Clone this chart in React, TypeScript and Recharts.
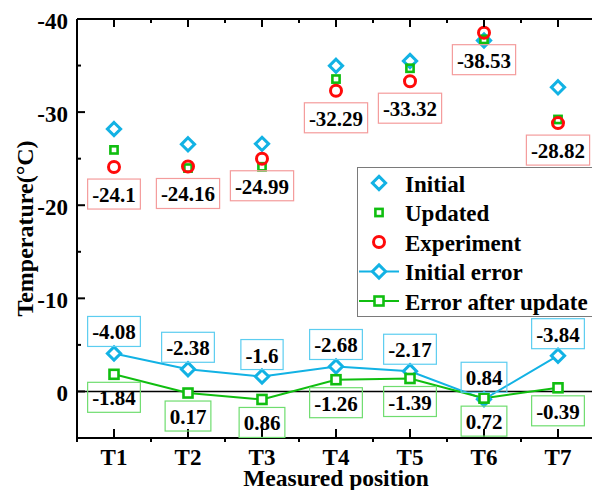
import { ComposedChart, Line, XAxis, YAxis, ReferenceLine, Legend, LabelList, Label } from 'recharts';

const CATEGORIES = ['T1', 'T2', 'T3', 'T4', 'T5', 'T6', 'T7'];
const INITIAL = [-28.18, -26.54, -26.59, -34.97, -35.49, -37.69, -32.66];
const UPDATED = [-25.94, -23.99, -24.13, -33.55, -34.71, -37.81, -29.21];
const EXPERIMENT = [-24.1, -24.16, -24.99, -32.29, -33.32, -38.53, -28.82];
const INITIAL_ERROR = [-4.08, -2.38, -1.6, -2.68, -2.17, 0.84, -3.84];
const UPDATED_ERROR = [-1.84, 0.17, 0.86, -1.26, -1.39, 0.72, -0.39];
const Y_TICKS = [-40, -35, -30, -25, -20, -15, -10, -5, 0, 5];

const CYAN = '#12B2E4';
const GREEN = '#10BE10';
const RED = '#FF0A0A';
const FONT = '"Liberation Serif", "Times New Roman", serif';

const W = 610;
const H = 490;
const MARGIN = { top: 18, right: 15, bottom: 0, left: 0 };
const Y_AXIS_W = 77;
const X_AXIS_H = 52;
const BAND = (W - MARGIN.left - MARGIN.right - Y_AXIS_W) / CATEGORIES.length;

const data = CATEGORIES.map((name, i) => ({
  name,
  initial: INITIAL[i],
  updated: UPDATED[i],
  experiment: EXPERIMENT[i],
  initErr: INITIAL_ERROR[i],
  updErr: UPDATED_ERROR[i],
}));

// markers
const diamond = (cx: number, cy: number, r: number) =>
  `M${cx},${cy - r}L${cx + r},${cy}L${cx},${cy + r}L${cx - r},${cy}Z`;

const DiamondDot = (fill: string) => (p: any) => (
  <path key={`d${p.index}`} d={diamond(p.cx, p.cy, 6.6)} fill={fill} stroke={CYAN} strokeWidth={3} />
);
const SquareDot = (half: number, fill: string) => (p: any) => (
  <rect key={`s${p.index}`} x={p.cx - half} y={p.cy - half} width={half * 2} height={half * 2}
    fill={fill} stroke={GREEN} strokeWidth={2.6} />
);
const CircleDot = (p: any) => (
  <circle key={`c${p.index}`} cx={p.cx} cy={p.cy} r={5.5} fill="none" stroke={RED} strokeWidth={3} />
);

// boxed value labels
function textWidth(s: string, fs: number) {
  let w = 0;
  for (const c of s) w += c === '.' ? 0.25 : c === '-' ? 0.333 : 0.5;
  return w * fs;
}

function boxLabel(color: string, place: 'above' | 'below', gap: number) {
  return (p: any) => {
    const x = Number(p.x ?? p.viewBox?.x);
    const y = Number(p.y ?? p.viewBox?.y);
    const text = String(p.value);
    const w = textWidth(text, 21) + 9;
    const h = 30;
    const top = place === 'above' ? y - gap - h : y + gap;
    return (
      <g key={`l${p.index}`}>
        <rect x={x - w / 2} y={top} width={w} height={h} fill="none" stroke={color} strokeWidth={1.2} />
        <text x={x} y={top + h / 2 + 1} textAnchor="middle" dominantBaseline="central"
          fontFamily={FONT} fontWeight="bold" fontSize={21} fill="#000">{text}</text>
      </g>
    );
  };
}

// axis ticks (drawn inward)
const BottomTick = (p: any) => {
  const { x, y, index } = p;
  return (
    <g>
      <line x1={x} y1={y} x2={x} y2={y - 9} stroke="#000" strokeWidth={2} />
      <line x1={x - BAND / 2} y1={y} x2={x - BAND / 2} y2={y + 4} stroke="#000" strokeWidth={2} />
      {index === CATEGORIES.length - 1 && (
        <line x1={x + BAND / 2} y1={y} x2={x + BAND / 2} y2={y + 4} stroke="#000" strokeWidth={2} />
      )}
      <text x={x} y={y + 27} textAnchor="middle" fontFamily={FONT} fontWeight="bold" fontSize={23} fill="#000">
        {p.payload.value}
      </text>
    </g>
  );
};

const TopTick = (p: any) => {
  const { x, y } = p;
  return (
    <g>
      <line x1={x} y1={y} x2={x} y2={y + 8} stroke="#000" strokeWidth={2} />
      <line x1={x - BAND / 2} y1={y} x2={x - BAND / 2} y2={y + 4} stroke="#000" strokeWidth={2} />
    </g>
  );
};

const LeftTick = (p: any) => {
  const { x, y } = p;
  const v = p.payload.value;
  const major = v % 10 === 0;
  return (
    <g>
      <line x1={x} y1={y} x2={x + (major ? 8 : 4)} y2={y} stroke="#000" strokeWidth={2} />
      {major && (
        <text x={x - 9} y={y + 2} textAnchor="end" dominantBaseline="central"
          fontFamily={FONT} fontWeight="bold" fontSize={23} fill="#000">{v}</text>
      )}
    </g>
  );
};

const LEGEND_ROWS = [
  { name: 'Initial', kind: 'diamond', line: false },
  { name: 'Updated', kind: 'square', line: false },
  { name: 'Experiment', kind: 'circle', line: false },
  { name: 'Initial error', kind: 'diamond', line: true },
  { name: 'Error after update', kind: 'square', line: true },
];

function LegendBox() {
  return (
    <div style={{ width: 250, height: 150, border: '1px solid #7a7a7a', background: '#fff', boxSizing: 'border-box' }}>
      <svg width={248} height={148}>
        {LEGEND_ROWS.map((r, i) => {
          const cy = 15 + i * 29.5;
          const cx = 21;
          const color = r.kind === 'diamond' ? CYAN : r.kind === 'square' ? GREEN : RED;
          return (
            <g key={r.name}>
              {r.line && <line x1={1} x2={41} y1={cy} y2={cy} stroke={color} strokeWidth={2} />}
              {r.kind === 'diamond' && <path d={diamond(cx, cy, 6.6)} fill="#fff" stroke={CYAN} strokeWidth={3} />}
              {r.kind === 'square' && (
                <rect x={cx - (r.line ? 4.5 : 3.6)} y={cy - (r.line ? 4.5 : 3.6)} width={r.line ? 9 : 7.2}
                  height={r.line ? 9 : 7.2} fill="#fff" stroke={GREEN} strokeWidth={2.6} />
              )}
              {r.kind === 'circle' && <circle cx={cx} cy={cy} r={5.5} fill="none" stroke={RED} strokeWidth={3} />}
              <text x={47} y={cy + 1} dominantBaseline="central" fontFamily={FONT} fontWeight="bold" fontSize={23} fill="#000">
                {r.name}
              </text>
            </g>
          );
        })}
      </svg>
    </div>
  );
}

export default function App() {
  return (
    <div style={{ position: 'fixed', left: 0, top: 0, width: 592, height: 490, overflow: 'hidden', background: '#fff' }}>
      <ComposedChart width={W} height={H} data={data} margin={MARGIN}>
        <XAxis dataKey="name" scale="band" height={X_AXIS_H} tickSize={0} tickMargin={0} tickLine={false}
          axisLine={{ stroke: '#000', strokeWidth: 2 }} tick={<BottomTick />} interval={0}>
          <Label content={(p: any) => {
            const vb = p.viewBox;
            return (
              <text x={vb.x + vb.width / 2} y={vb.y + 48} textAnchor="middle" fontFamily={FONT}
                fontWeight="bold" fontSize={23.5} fill="#000">Measured position</text>
            );
          }} />
        </XAxis>
        <XAxis xAxisId="top" orientation="top" dataKey="name" scale="band" height={1} tickSize={0} tickMargin={0}
          tickLine={false} axisLine={{ stroke: '#000', strokeWidth: 2 }} tick={<TopTick />} interval={0} />
        <YAxis type="number" domain={[-40, 5]} reversed ticks={Y_TICKS} width={Y_AXIS_W} tickSize={0}
          tickMargin={0} tickLine={false} axisLine={{ stroke: '#000', strokeWidth: 2 }} tick={<LeftTick />}
          interval={0}>
          <Label content={(p: any) => {
            const vb = p.viewBox;
            const cy = vb.y + vb.height / 2;
            return (
              <text x={33} y={cy} transform={`rotate(-90 33 ${cy})`} textAnchor="middle" fontFamily={FONT}
                fontWeight="bold" fontSize={24} fill="#000">Temperature(°C)</text>
            );
          }} />
        </YAxis>
        <ReferenceLine y={0} stroke="#000" strokeWidth={1.6} />

        <Line dataKey="initial" stroke="none" isAnimationActive={false} activeDot={false}
          dot={DiamondDot('none')} legendType="none" />
        <Line dataKey="updated" stroke="none" isAnimationActive={false} activeDot={false}
          dot={SquareDot(3.6, 'none')} legendType="none" />
        <Line dataKey="experiment" stroke="none" isAnimationActive={false} activeDot={false}
          dot={CircleDot} legendType="none">
          <LabelList dataKey="experiment" content={boxLabel('#F49C9C', 'below', 12)} />
        </Line>

        <Line dataKey="initErr" stroke={CYAN} strokeWidth={2} isAnimationActive={false} activeDot={false}
          dot={DiamondDot('#fff')} legendType="none">
          <LabelList dataKey="initErr" content={boxLabel('#5CCDF0', 'above', 7)} />
        </Line>
        <Line dataKey="updErr" stroke={GREEN} strokeWidth={2} isAnimationActive={false} activeDot={false}
          dot={SquareDot(4.5, '#fff')} legendType="none">
          <LabelList dataKey="updErr" content={boxLabel('#6FDD6F', 'below', 8)} />
        </Line>

        <Legend layout="vertical" align="center" verticalAlign="middle" content={() => <LegendBox />}
          wrapperStyle={{ left: 357, top: 167, width: 250, height: 150 }} />
      </ComposedChart>
    </div>
  );
}
